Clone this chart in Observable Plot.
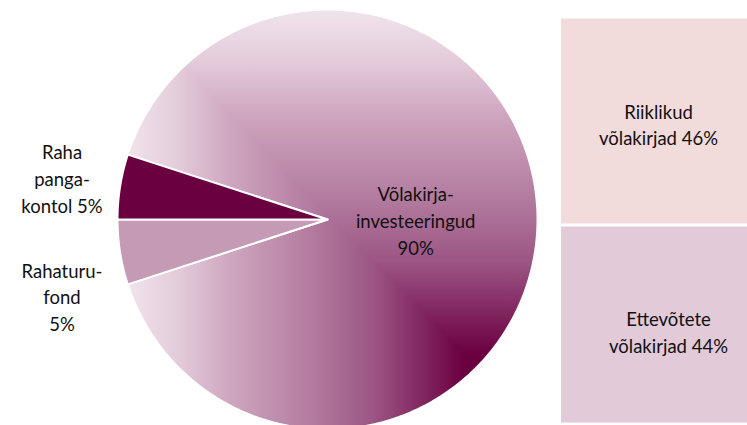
<!DOCTYPE html>
<html>
<head>
<meta charset="utf-8">
<script src="https://cdn.jsdelivr.net/npm/d3@7"></script>
<script src="https://cdn.jsdelivr.net/npm/@observablehq/plot@0.6"></script>
<style>
  html, body { margin: 0; padding: 0; background: #fff; }
  #wrap { display: flex; width: 747px; height: 425px; overflow: hidden; }
  #wrap svg { display: block; }
</style>
</head>
<body>
<div id="wrap"></div>
<script>
// ---- data ----
const sliceNames = ["Võlakirja-investeeringud", "Rahaturufond", "Raha pangakontol"];
const sliceShares = [90, 5, 5];
const sliceLabels = ["Võlakirja-\ninvesteeringud\n90%", "Rahaturu-\nfond\n5%", "Raha\npanga-\nkontol 5%"];
const bondNames = ["Riiklikud võlakirjad", "Ettevõtete võlakirjad"];
const bondShares = [46, 44];
const bondLabels = ["Riiklikud\nvõlakirjad 46%", "Ettevõtete\nvõlakirjad 44%"];

// ---- styles ----
const smallColors = {"Rahaturufond": "#c49ab5", "Raha pangakontol": "#6b0040"};
const bondColors = ["#f1dbdb", "#e2cad9"];
const font = "Lato, 'Open Sans', sans-serif";
const fs = 18.5, lh = 1.45;

// ---- layout ----
const W1 = 540, H = 425, cx = 327, cy = 219, R = 210;

const slices = sliceNames.map((name, i) => ({name, share: sliceShares[i], label: sliceLabels[i]}));
const arcs = d3.pie().value(d => d.share).sort(null)
  .startAngle(1.6 * Math.PI).endAngle(3.6 * Math.PI)(slices);

// polygon points in unit-circle coordinates (y up)
const pts = [];
for (const a of arcs) {
  const name = a.data.name;
  pts.push({name, x: 0, y: 0});
  const N = Math.max(8, Math.round((a.endAngle - a.startAngle) * 80));
  for (let k = 0; k <= N; k++) {
    const t = a.startAngle + (a.endAngle - a.startAngle) * k / N;
    pts.push({name, x: Math.sin(t), y: Math.cos(t)});
  }
  pts.push({name, x: 0, y: 0});
}
const bigName = sliceNames[0];
const bigPts = pts.filter(d => d.name === bigName);

const labels = arcs.map(a => {
  const m = (a.startAngle + a.endAngle) / 2;
  const rr = a.data.share > 50 ? 0.42 : 1.28;
  return {name: a.data.name, label: a.data.label, x: rr * Math.sin(m), y: rr * Math.cos(m), upper: Math.cos(m) >= 0};
});

const pie = Plot.plot({
  width: W1, height: H,
  margin: 0,
  x: {domain: [-cx / R, (W1 - cx) / R], range: [0, W1], axis: null},
  y: {domain: [-(H - cy) / R, cy / R], range: [H, 0], axis: null},
  style: {fontFamily: font, background: "transparent"},
  marks: [
    Plot.line(bigPts, {x: "x", y: "y", fill: "#a4628e", stroke: "white", strokeWidth: 2}),
    Plot.line(bigPts, {x: "x", y: "y", fill: "#a4628e", stroke: "white", strokeWidth: 2}),
    ...sliceNames.slice(1).map(n =>
      Plot.line(pts.filter(d => d.name === n), {x: "x", y: "y", fill: smallColors[n], stroke: "white", strokeWidth: 2, strokeLinejoin: "miter"})
    ),
    Plot.text(labels.filter(d => d.name === bigName || d.upper), {
      x: "x", y: "y", text: "label", fontSize: fs, lineHeight: lh, fill: "#111", lineAnchor: "middle"
    }),
    Plot.text(labels.filter(d => d.name !== bigName && !d.upper), {
      x: "x", y: "y", text: "label", fontSize: fs, lineHeight: lh, fill: "#111", lineAnchor: "top", dy: -3
    })
  ]
});

// rectangular "from corner" gradient built from a horizontal and a vertical half
const stops = [
  [0, "#f0e4ec"], [0.12, "#e4ccdb"], [0.25, "#cfa6bf"], [0.45, "#b27b9f"],
  [0.6, "#9c5584"], [0.75, "#7a1b56"], [0.82, "#6b0040"], [1, "#6b0040"]
];
const svg1 = d3.select(pie);
const defs = svg1.insert("defs", ":first-child");
const gh = defs.append("linearGradient").attr("id", "gradH")
  .attr("x1", 0).attr("y1", 0).attr("x2", 1).attr("y2", 0);
const gv = defs.append("linearGradient").attr("id", "gradV")
  .attr("x1", 0).attr("y1", 0).attr("x2", 0).attr("y2", 1);
for (const [o, c] of stops) {
  gh.append("stop").attr("offset", o).attr("stop-color", c);
  gv.append("stop").attr("offset", o).attr("stop-color", c);
}
defs.append("clipPath").attr("id", "triClip").attr("clipPathUnits", "objectBoundingBox")
  .append("polygon").attr("points", "0,0 1,0 1,1");
const lineGroups = svg1.selectAll('g[aria-label="line"]').nodes();
if (lineGroups.length >= 2) {
  d3.select(lineGroups[0]).attr("fill", "url(#gradH)").selectAll("path").attr("fill", "url(#gradH)");
  d3.select(lineGroups[1]).attr("fill", "url(#gradV)").selectAll("path")
    .attr("fill", "url(#gradV)").attr("clip-path", "url(#triClip)");
}

// ---- stacked bond split ----
let acc = d3.sum(bondShares);
const bonds = bondNames.map((name, i) => {
  const y2 = acc; acc -= bondShares[i];
  return {name, share: bondShares[i], label: bondLabels[i], y1: acc, y2, ym: (acc + y2) / 2, i};
});

const bars = Plot.plot({
  width: 747 - W1, height: H,
  marginLeft: 21, marginRight: 0, marginTop: 17, marginBottom: 1,
  x: {domain: [0, 1], axis: null},
  y: {domain: [0, d3.sum(bondShares)], axis: null},
  style: {fontFamily: font, background: "transparent"},
  marks: [
    Plot.rect(bonds, {x1: 0, x2: 1, y1: "y1", y2: "y2", fill: (d) => bondColors[d.i], insetTop: 1.5, insetBottom: 1.5}),
    Plot.text(bonds.filter(d => d.i === 0), {x: 0.5, y: "ym", text: "label", fontSize: fs, lineHeight: lh, fill: "#111", dx: 4, dy: 2}),
    Plot.text(bonds.filter(d => d.i === 1), {x: 0.5, y: "ym", text: "label", fontSize: fs, lineHeight: lh, fill: "#111", dx: 14, dy: 6})
  ]
});

const wrap = document.getElementById("wrap");
wrap.appendChild(pie);
wrap.appendChild(bars);
</script>
</body>
</html>
